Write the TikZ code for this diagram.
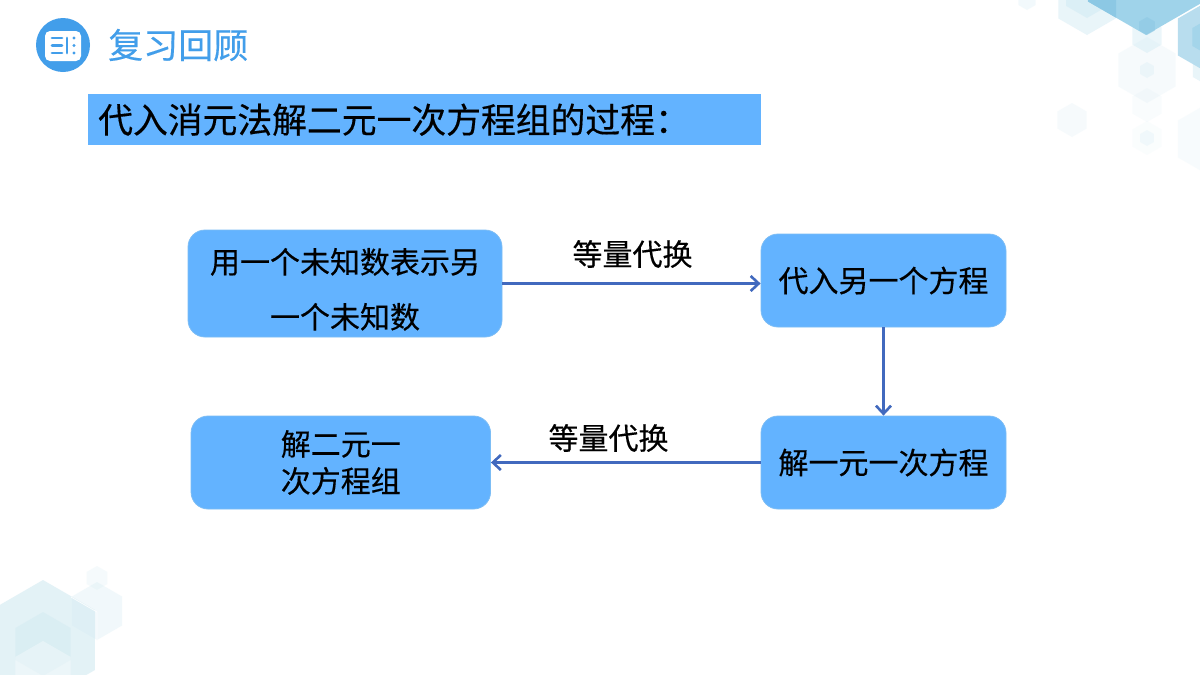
\documentclass[tikz,border=0pt]{standalone}
\usepackage{fontspec}
\setmainfont{Noto Sans CJK SC}
\newfontfamily\cjkheavy[FakeBold=0.35]{Noto Sans CJK SC}
\usetikzlibrary{arrows.meta}
\definecolor{boxblue}{HTML}{63B3FF}
\definecolor{boxedge}{HTML}{7CBDF5}
\definecolor{arrowblue}{HTML}{4169BE}
\definecolor{iconblue}{HTML}{429EEA}
\definecolor{hexdark}{HTML}{9FD3EA}
\definecolor{hexdarker}{HTML}{8CC8E4}
\definecolor{hexmid}{HTML}{B5DCEE}
\definecolor{hexpale}{HTML}{C8E6F2}
\definecolor{hexteal}{HTML}{D3EBF2}
\newcommand{\hexa}[5]{% cx cy r colour opacity
  \fill[#4,fill opacity=#5] ({#1},{#2-#3}) -- ({#1+0.866*#3},{#2-0.5*#3}) -- ({#1+0.866*#3},{#2+0.5*#3}) -- ({#1},{#2+#3}) -- ({#1-0.866*#3},{#2+0.5*#3}) -- ({#1-0.866*#3},{#2-0.5*#3}) -- cycle;}
\tikzset{
  flowbox/.style={draw=boxedge,line width=0.8pt,fill=boxblue,rounded corners=17pt,inner sep=0pt,align=center,font=\cjkheavy\fontsize{30}{37}\selectfont,text=black},
  flowarrow/.style={draw=arrowblue,line width=2.6pt,-{Straight Barb[length=8pt,width=15pt,line width=2.6pt]}},
  edgelabel/.style={inner sep=0pt,font=\cjkheavy\fontsize{30}{36}\selectfont,text=black},
  titlebar/.style={fill=boxblue,inner sep=0pt,anchor=north west,text width=673pt,minimum height=51pt,align=left,font=\cjkheavy\fontsize{34.8}{38}\selectfont,text=black},
  headtext/.style={inner sep=0pt,anchor=west,text=iconblue,font=\cjkheavy\fontsize{35}{40}\selectfont},
  iconbar/.style={line width=2.8pt,draw=iconblue,line cap=round}
}
\begin{document}
\begin{tikzpicture}[x=1pt,y=-1pt]
\useasboundingbox (0,0) rectangle (1200,675);
\fill[white] (0,0) rectangle (1200,675);
\begin{scope}
\clip (0,0) rectangle (1200,675);
% top right hexagons
\hexa{1027}{0}{10}{hexpale}{0.22}
\hexa{1087}{2}{33}{hexpale}{0.40}
\hexa{1087}{-6}{24}{hexpale}{0.40}
\hexa{1147}{70}{33}{hexpale}{0.16}
\hexa{1147}{70}{8}{hexpale}{0.22}
\hexa{1147}{36}{17}{hexpale}{0.35}
\hexa{1147}{105}{17}{hexpale}{0.10}
\hexa{1072}{120}{17}{hexpale}{0.16}
\hexa{1147}{138}{17}{hexpale}{0.08}
\hexa{1147}{138}{8}{hexpale}{0.18}
\hexa{1210}{139}{37}{hexpale}{0.13}
\hexa{1205}{70}{14}{hexpale}{0.40}
\hexa{1210}{37}{37}{hexmid}{0.95}
\hexa{1208}{37}{18}{hexdark}{0.8}
\hexa{1146}{-32}{67}{hexdark}{1}
\begin{scope}
\clip (1088,0) rectangle (1116,40);
\hexa{1146}{-32}{67}{hexdarker}{1}
\end{scope}
\hexa{1147}{26}{9}{hexdarker}{0.55}
% bottom left hexagons
\hexa{97}{578}{12}{hexteal}{0.22}
\hexa{97}{611}{29}{hexteal}{0.30}
\hexa{43}{640}{60}{hexteal}{0.62}
\hexa{43}{644}{32}{hexteal}{0.5}
\hexa{43}{673}{32}{white}{0.35}
\draw[white,line width=0.8pt,opacity=0.8] (71,597) -- (97,612) -- (97,640);
\end{scope}
% header icon
\node[circle,fill=iconblue,minimum size=54pt,inner sep=0pt] (icon) at (63,45) {};
\node[fill=white,rounded corners=5pt,minimum width=36pt,minimum height=30pt,inner sep=0pt] (iconcard) at (63,46) {};
\draw[iconbar] (52,38) -- (62,38);
\draw[iconbar] (52,45.5) -- (62,45.5);
\draw[iconbar] (52,53) -- (62,53);
\draw[iconbar] (67,38) -- (67,53);
\fill[iconblue] (74,38) circle (1.6pt) (74,45.5) circle (1.6pt) (74,53) circle (1.6pt);
\node[headtext] (head) at (108,45) {复习回顾};
% title bar
\node[titlebar] (title) at (88,94) {\hspace{10pt}代入消元法解二元一次方程组的过程：};
% flow boxes
\node[flowbox,minimum width=314pt,minimum height=107pt,font=\cjkheavy\fontsize{30}{55}\selectfont] (b1) at (345,283.5) {\rule{0pt}{37pt}用一个未知数表示另\\一个未知数};
\node[flowbox,minimum width=245pt,minimum height=93pt] (b2) at (883.5,280.5) {代入另一个方程};
\node[flowbox,minimum width=245pt,minimum height=93pt] (b3) at (883.5,462.5) {解一元一次方程};
\node[flowbox,minimum width=299.5pt,minimum height=93pt] (b4) at (340.8,462.5) {解二元一\\次方程组};
% connectors
\draw[flowarrow] (b1.east) -- (b2.west |- b1.east);
\draw[flowarrow] (b2.south) -- (b3.north);
\draw[flowarrow] (b3.west) -- (b4.east);
% labels
\node[edgelabel] (l1) at (632.5,254) {等量代换};
\node[edgelabel] (l2) at (608.5,438) {等量代换};
\end{tikzpicture}
\end{document}
